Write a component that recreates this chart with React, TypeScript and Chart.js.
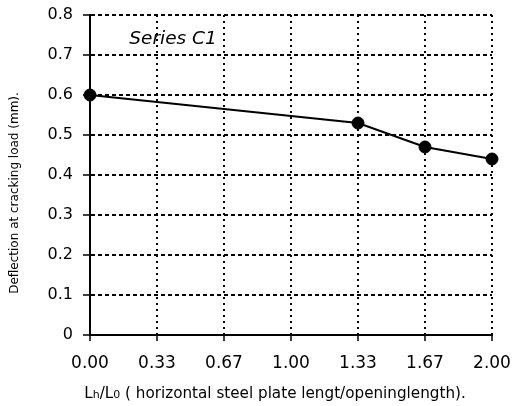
import React, { useEffect, useRef } from "react";
import { Chart, registerables } from "chart.js";

Chart.register(...registerables);

const xLabels = ["0.00", "0.33", "0.67", "1.00", "1.33", "1.67", "2.00"];
const deflection = [0.6, null, null, null, 0.53, 0.47, 0.44];
const seriesName = "Series C1";
const yTitle = "Deflection at cracking load (mm).";
const xTitleParts = [
  { t: "L", small: false },
  { t: "h", small: true },
  { t: "/L", small: false },
  { t: "0", small: true },
  { t: " ( horizontal steel plate lengt/openinglength).", small: false },
];

const FONT = "'DejaVu Sans', 'Liberation Sans', Arial, sans-serif";

export default function App() {
  const ref = useRef<HTMLCanvasElement>(null);
  useEffect(() => {
    const textPlugin = {
      id: "texts",
      afterDraw(chart: any) {
        const ctx = chart.ctx;
        const area = chart.chartArea;
        ctx.save();
        ctx.fillStyle = "#000";
        // series label
        ctx.font = `italic 18.5px ${FONT}`;
        ctx.textAlign = "center";
        ctx.textBaseline = "middle";
        ctx.fillText(seriesName, area.left + 83, area.top + 24);
        // y title
        ctx.save();
        ctx.translate(15, 193);
        ctx.rotate(-Math.PI / 2);
        ctx.font = `12px ${FONT}`;
        ctx.textAlign = "center";
        ctx.textBaseline = "middle";
        ctx.fillText(yTitle, 0, 0);
        ctx.restore();
        // x title
        ctx.textAlign = "left";
        ctx.textBaseline = "alphabetic";
        const big = `15.2px ${FONT}`;
        const small = `11px ${FONT}`;
        let total = 0;
        for (const p of xTitleParts) {
          ctx.font = p.small ? small : big;
          total += ctx.measureText(p.t).width;
        }
        let x = 275 - total / 2;
        for (const p of xTitleParts) {
          ctx.font = p.small ? small : big;
          ctx.fillText(p.t, x, 398);
          x += ctx.measureText(p.t).width;
        }
        ctx.restore();
      },
    };
    const chart = new Chart(ref.current!, {
      type: "line",
      data: {
        labels: xLabels,
        datasets: [
          {
            data: deflection,
            borderColor: "#000",
            backgroundColor: "#000",
            borderWidth: 2,
            pointRadius: 6,
            pointHoverRadius: 6,
            pointBorderWidth: 1,
            pointBackgroundColor: "#000",
            pointBorderColor: "#000",
            spanGaps: true,
            tension: 0,
          },
        ],
      },
      options: {
        animation: false,
        responsive: true,
        maintainAspectRatio: false,
        layout: { padding: { top: 15, right: 20, left: 0, bottom: 0 } },
        plugins: {
          legend: { display: false },
          tooltip: { enabled: false },
        },
        scales: {
          x: {
            type: "category",
            offset: false,
            grid: {
              color: "#000",
              lineWidth: 2,
              tickLength: 6,
              tickColor: "#000",
              tickBorderDash: [],
              tickWidth: 1.5,
            },
            border: { display: true, color: "#000", width: 2, dash: [2, 4] },
            ticks: {
              color: "#000",
              font: { family: FONT, size: 17 },
              padding: 12,
              maxRotation: 0,
              autoSkip: false,
            },
            afterFit(scale: any) {
              scale.height = 71;
              scale.paddingLeft = 0;
              scale.paddingRight = 0;
            },
          },
          y: {
            min: 0,
            max: 0.8,
            grid: {
              color: "#000",
              lineWidth: 2,
              tickLength: 7,
              tickColor: "#000",
              tickBorderDash: [],
              tickWidth: 1.5,
            },
            border: { display: true, color: "#000", width: 2, dash: [4, 3] },
            ticks: {
              stepSize: 0.1,
              color: "#000",
              font: { family: FONT, size: 16 },
              padding: 10,
              callback: (v: any) => (Number(v) === 0 ? "0" : Number(v).toFixed(1)),
            },
            afterFit(scale: any) {
              scale.width = 90;
              scale.paddingTop = 0;
              scale.paddingBottom = 0;
            },
          },
        },
      },
      plugins: [textPlugin],
    });
    return () => chart.destroy();
  }, []);
  return (
    <div style={{ position: "absolute", left: 0, top: 0, width: 512, height: 406, background: "#fff" }}>
      <canvas ref={ref} />
    </div>
  );
}
